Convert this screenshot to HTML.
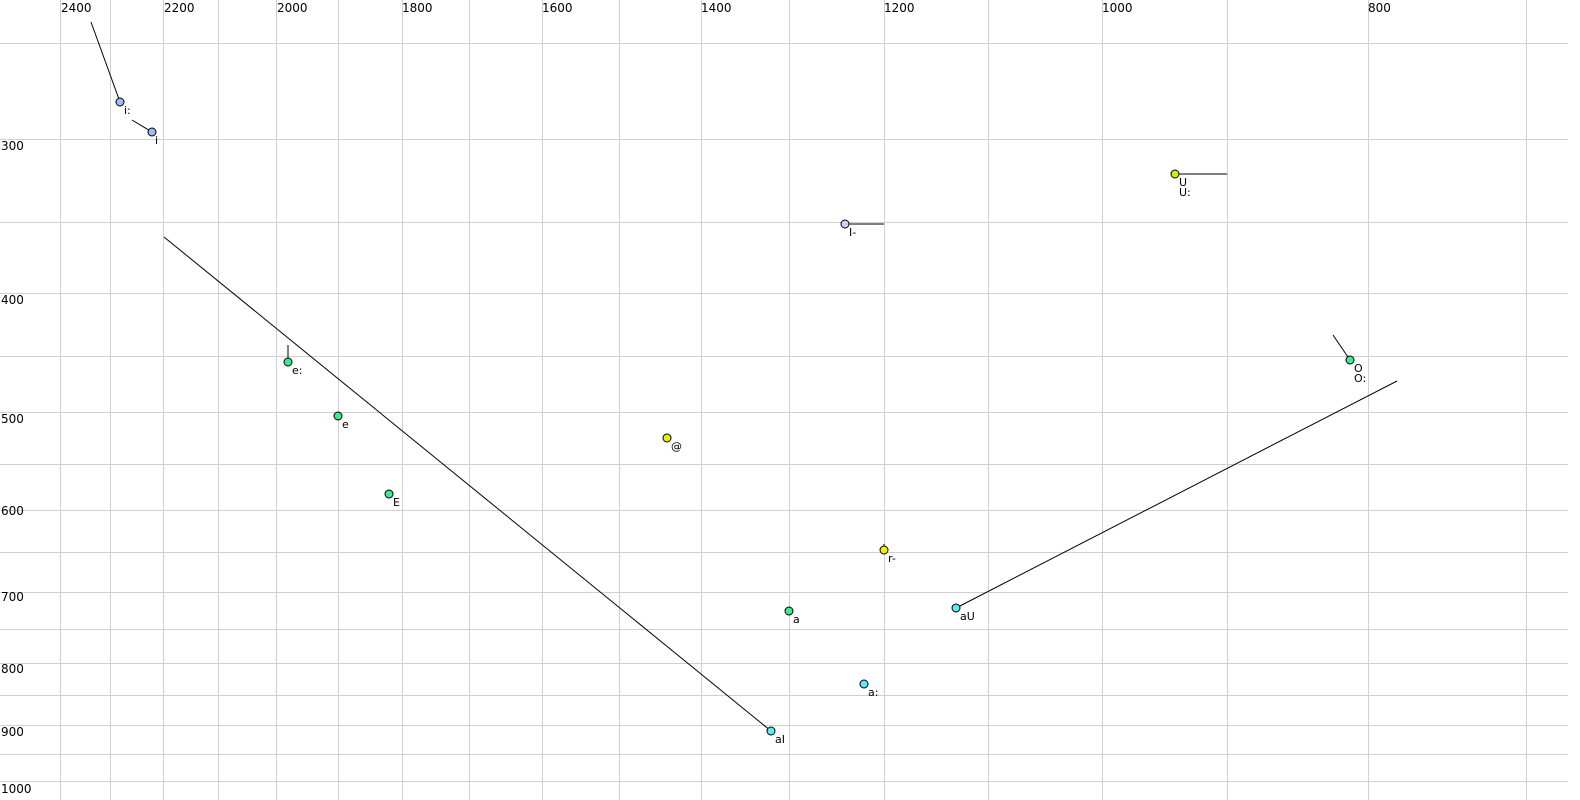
<!DOCTYPE html>
<html><head><meta charset="utf-8"><style>
html,body{margin:0;padding:0;background:#fff;width:1580px;height:800px;overflow:hidden}
svg text{font-family:"DejaVu Sans","Liberation Sans",sans-serif;font-size:12px;fill:#000}
svg text.l{font-size:11px}
</style></head><body>
<svg width="1580" height="800" xmlns="http://www.w3.org/2000/svg">
<g stroke="#d0d0d0" stroke-width="1">
<line x1="60.5" y1="0" x2="60.5" y2="800"/><line x1="110.5" y1="0" x2="110.5" y2="800"/><line x1="163.5" y1="0" x2="163.5" y2="800"/><line x1="218.5" y1="0" x2="218.5" y2="800"/><line x1="276.5" y1="0" x2="276.5" y2="800"/><line x1="338.5" y1="0" x2="338.5" y2="800"/><line x1="402.5" y1="0" x2="402.5" y2="800"/><line x1="469.5" y1="0" x2="469.5" y2="800"/><line x1="542.5" y1="0" x2="542.5" y2="800"/><line x1="619.5" y1="0" x2="619.5" y2="800"/><line x1="701.5" y1="0" x2="701.5" y2="800"/><line x1="789.5" y1="0" x2="789.5" y2="800"/><line x1="884.5" y1="0" x2="884.5" y2="800"/><line x1="988.5" y1="0" x2="988.5" y2="800"/><line x1="1102.5" y1="0" x2="1102.5" y2="800"/><line x1="1227.5" y1="0" x2="1227.5" y2="800"/><line x1="1368.5" y1="0" x2="1368.5" y2="800"/><line x1="1526.5" y1="0" x2="1526.5" y2="800"/>
<line x1="0" y1="43.5" x2="1568" y2="43.5"/><line x1="0" y1="139.5" x2="1568" y2="139.5"/><line x1="0" y1="222.5" x2="1568" y2="222.5"/><line x1="0" y1="293.5" x2="1568" y2="293.5"/><line x1="0" y1="356.5" x2="1568" y2="356.5"/><line x1="0" y1="412.5" x2="1568" y2="412.5"/><line x1="0" y1="464.5" x2="1568" y2="464.5"/><line x1="0" y1="510.5" x2="1568" y2="510.5"/><line x1="0" y1="552.5" x2="1568" y2="552.5"/><line x1="0" y1="592.5" x2="1568" y2="592.5"/><line x1="0" y1="629.5" x2="1568" y2="629.5"/><line x1="0" y1="663.5" x2="1568" y2="663.5"/><line x1="0" y1="695.5" x2="1568" y2="695.5"/><line x1="0" y1="725.5" x2="1568" y2="725.5"/><line x1="0" y1="754.5" x2="1568" y2="754.5"/><line x1="0" y1="781.5" x2="1568" y2="781.5"/>
</g>
<g>
<text x="61" y="12">2400</text><text x="164" y="12">2200</text><text x="277" y="12">2000</text><text x="402" y="12">1800</text><text x="542" y="12">1600</text><text x="701" y="12">1400</text><text x="884" y="12">1200</text><text x="1102" y="12">1000</text><text x="1368" y="12">800</text>
<text x="1" y="150">300</text><text x="1" y="304">400</text><text x="1" y="423">500</text><text x="1" y="515">600</text><text x="1" y="601">700</text><text x="1" y="673">800</text><text x="1" y="736">900</text><text x="1" y="793">1000</text>
</g>
<g stroke="#000" stroke-width="1" fill="none">
<line x1="91" y1="22" x2="120" y2="102"/>
<line x1="132" y1="120" x2="152" y2="132"/>
<line x1="288" y1="345" x2="288" y2="362"/>
<line x1="845" y1="224" x2="884" y2="224"/>
<line x1="1175" y1="174" x2="1227" y2="174"/>
<line x1="1333" y1="335" x2="1350" y2="360"/>
<line x1="884" y1="544" x2="884" y2="550"/>
<line x1="164" y1="237" x2="771" y2="731"/>
<line x1="956" y1="608" x2="1397" y2="381"/>
</g>
<g stroke="#000" stroke-width="1">
<circle cx="120" cy="102" r="4" fill="#9bbcf5"/>
<circle cx="152" cy="132" r="4" fill="#9bbcf5"/>
<circle cx="288" cy="362" r="4" fill="#40e890"/>
<circle cx="338" cy="416" r="4" fill="#40e890"/>
<circle cx="389" cy="494" r="4" fill="#40e890"/>
<circle cx="667" cy="438" r="4" fill="#e8f000"/>
<circle cx="845" cy="224" r="4" fill="#d0d0f8"/>
<circle cx="1175" cy="174" r="4" fill="#c8f000"/>
<circle cx="1350" cy="360" r="4" fill="#40e890"/>
<circle cx="884" cy="550" r="4" fill="#f0f000"/>
<circle cx="789" cy="611" r="4" fill="#40e890"/>
<circle cx="864" cy="684" r="4" fill="#60e8f0"/>
<circle cx="771" cy="731" r="4" fill="#60e8f0"/>
<circle cx="956" cy="608" r="4" fill="#60e8f0"/>
</g>
<g class="l">
<text class="l" x="124" y="114">i:</text>
<text class="l" x="155" y="144">i</text>
<text class="l" x="292" y="374">e:</text>
<text class="l" x="342" y="428">e</text>
<text class="l" x="393" y="506">E</text>
<text class="l" x="671" y="450">@</text>
<text class="l" x="849" y="236">I-</text>
<text class="l" x="1179" y="186">U</text>
<text class="l" x="1179" y="196">U:</text>
<text class="l" x="1354" y="372">O</text>
<text class="l" x="1354" y="382">O:</text>
<text class="l" x="888" y="562">r-</text>
<text class="l" x="793" y="623">a</text>
<text class="l" x="868" y="696">a:</text>
<text class="l" x="775" y="743">aI</text>
<text class="l" x="960" y="620">aU</text>
</g>
</svg>
</body></html>
